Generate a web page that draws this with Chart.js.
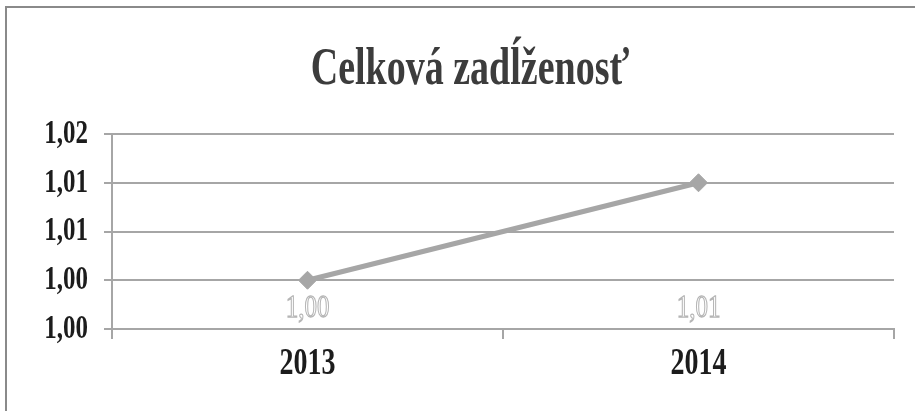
<!DOCTYPE html>
<html>
<head>
<meta charset="utf-8">
<script src="https://cdn.jsdelivr.net/npm/chart.js@4"></script>
<style>
    html, body { margin: 0; padding: 0; background: #fff; }
    #wrap { position: relative; width: 915px; height: 411px; overflow: hidden; }
    #frame {
        position: absolute; left: 5px; top: 6px; width: 930px; height: 420px;
        border-top: 2px solid #8a8a8a; border-left: 2px solid #8a8a8a;
    }
    canvas { position: absolute; left: 0; top: 0; }
</style>
</head>
<body>
<div id="wrap">
    <div id="frame"></div>
    <canvas id="debtChart" width="915" height="411"></canvas>
</div>
<script>
// Chart data
const chartTitle = 'Celková zadĺženosť';
const years = ['2013', '2014'];
const debtValues = [1.005, 1.015];
const debtLabels = ['1,00', '1,01'];
const yTickLabels = ['1,00', '1,00', '1,01', '1,01', '1,02'];

const lineGrey = '#a6a6a6';
const serif = "'Liberation Serif', 'Times New Roman', serif";
const STRETCH = 1.38; // the scanned original has tall, narrow lettering

function stretchedText(ctx, text, x, y, sy, stroke) {
    ctx.save();
    ctx.translate(x, y);
    ctx.scale(1, sy);
    ctx.fillText(text, 0, 0);
    if (stroke) ctx.strokeText(text, 0, 0);
    ctx.restore();
}

// Draws title, axis labels and value labels with the tall lettering
const tallText = {
    id: 'tallText',
    afterDraw(chart) {
        const ctx = chart.ctx;
        const xs = chart.scales.x;
        const ys = chart.scales.y;
        ctx.save();
        ctx.textBaseline = 'middle';

        // title
        ctx.font = 'bold 38px ' + serif;
        ctx.textAlign = 'center';
        ctx.fillStyle = '#3c3c3c';
        stretchedText(ctx, chartTitle, 470, 70, STRETCH);

        // y tick labels
        ctx.font = 'bold 25px ' + serif;
        ctx.textAlign = 'right';
        ctx.fillStyle = '#1c1c1c';
        ys.ticks.forEach((t, i) => {
            stretchedText(ctx, t.label, ys.right - 24, ys.getPixelForTick(i), STRETCH);
        });

        // x tick labels
        ctx.font = 'bold 28px ' + serif;
        ctx.textAlign = 'center';
        xs.ticks.forEach((t, i) => {
            stretchedText(ctx, t.label, xs.getPixelForTick(i), xs.top + 35, STRETCH);
        });

        // value labels, hollow grey, just above the x axis
        const meta = chart.getDatasetMeta(0);
        const baseY = ys.getPixelForValue(ys.min) - 20;
        ctx.font = '25px ' + serif;
        ctx.fillStyle = '#ffffff';
        ctx.strokeStyle = '#b5b5b5';
        ctx.lineWidth = 1;
        meta.data.forEach((pt, i) => {
            stretchedText(ctx, debtLabels[i], pt.x, baseY, 1.25, true);
        });
        ctx.restore();
    }
};

const ctx = document.getElementById('debtChart');

new Chart(ctx, {
    type: 'line',
    data: {
        labels: years,
        datasets: [{
            data: debtValues,
            borderColor: lineGrey,
            backgroundColor: lineGrey,
            borderWidth: 5,
            pointStyle: 'rectRot',
            pointRadius: 9,
            pointBorderWidth: 1,
            pointBackgroundColor: lineGrey,
            pointBorderColor: lineGrey,
            tension: 0
        }]
    },
    options: {
        responsive: false,
        animation: false,
        layout: {
            padding: { left: 0, right: 21, top: 134, bottom: 0 }
        },
        plugins: {
            legend: { display: false },
            tooltip: { enabled: false },
            title: { display: false }
        },
        scales: {
            x: {
                type: 'category',
                offset: true,
                afterFit: s => { s.height = 82; },
                grid: {
                    offset: true,
                    drawOnChartArea: false,
                    drawTicks: true,
                    tickLength: 10,
                    color: lineGrey,
                    lineWidth: 2
                },
                border: { display: true, color: lineGrey, width: 2 },
                ticks: {
                    color: 'rgba(0,0,0,0)',
                    padding: 9,
                    font: { family: serif, size: 28, weight: 'bold' }
                }
            },
            y: {
                min: 1.0,
                max: 1.02,
                afterFit: s => { s.width = 112; },
                grid: {
                    color: lineGrey,
                    lineWidth: 2,
                    tickLength: 8
                },
                border: { display: true, color: lineGrey, width: 2 },
                ticks: {
                    stepSize: 0.005,
                    color: 'rgba(0,0,0,0)',
                    padding: 16,
                    font: { family: serif, size: 25, weight: 'bold' },
                    callback: (value, index) => yTickLabels[index]
                }
            }
        }
    },
    plugins: [tallText]
});
</script>
</body>
</html>
